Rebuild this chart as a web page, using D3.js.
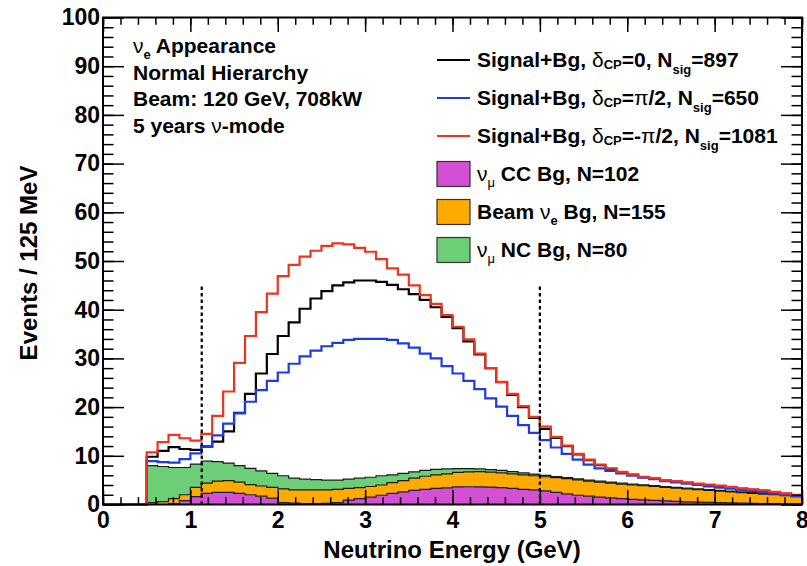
<!DOCTYPE html>
<html>
<head>
<meta charset="utf-8">
<script src="https://cdn.jsdelivr.net/npm/d3@7"></script>
<style>
  body { margin: 0; background: #fff; }
  text { font-family: "Liberation Sans", Arial, Helvetica, sans-serif; font-weight: bold; fill: #000; }
</style>
</head>
<body>
<div id="chart"></div>
<script>
var svgWidth = 807;
var svgHeight = 566;

var margin = {
  top: 17.5,
  right: 5,
  bottom: 61.5,
  left: 103
};

var width = svgWidth - margin.left - margin.right;
var height = svgHeight - margin.top - margin.bottom;

// histogram binning: 125 MeV bins, first filled bin starts at 0.5 GeV
var binStart = 0.5;
var binWidth = 0.125;
var xMax = 8;

// stacked backgrounds (events per bin), 60 bins from 0.5 to 8 GeV
var numuCC = [
  0, 0, 0.2, 0.8, 1.6, 2.3, 2.5, 2.5, 2.3, 2.0,
  1.7, 1.3, 0.4, 0.3, 0.2, 0.2, 0.25, 0.4, 0.9, 1.2,
  1.5, 1.9, 2.3, 2.6, 2.9, 3.1, 3.3, 3.4, 3.6, 3.65,
  3.6, 3.55, 3.45, 3.3, 3.1, 3.0, 2.8, 2.5, 2.2, 1.9,
  1.7, 1.5, 1.35, 1.2, 1.05, 0.95, 0.85, 0.75, 0.65, 0.55,
  0.5, 0.45, 0.4, 0.35, 0.3, 0.25, 0.2, 0.2, 0.15, 0.15
];
var beamNue = [
  0.4, 0.6, 1.0, 1.2, 1.9, 2.1, 2.3, 2.4, 2.3, 2.1,
  2.1, 2.2, 2.8, 2.7, 2.8, 2.8, 2.75, 2.7, 2.4, 2.25,
  2.2, 2.1, 2.2, 2.3, 2.5, 2.7, 2.8, 2.9, 3.0, 3.05,
  3.15, 3.1, 3.05, 3.0, 3.0, 2.9, 2.9, 3.0, 3.1, 3.15,
  3.1, 3.1, 3.05, 3.0, 2.95, 2.9, 2.85, 2.75, 2.7, 2.65,
  2.55, 2.45, 2.35, 2.25, 2.15, 2.05, 1.95, 1.8, 1.65, 1.45
];
var numuNC = [
  7.6, 7.2, 6.4, 5.6, 4.8, 4.5, 4.0, 3.6, 3.4, 3.3,
  3.1, 2.9, 2.7, 2.4, 2.2, 2.1, 2.0, 1.9, 1.9, 1.95,
  1.9, 1.9, 1.6, 1.5, 1.3, 1.2, 1.1, 1.0, 0.75, 0.65,
  0.55, 0.5, 0.5, 0.45, 0.4, 0.35, 0.3, 0.25, 0.2, 0.2,
  0.2, 0.2, 0.2, 0.2, 0.2, 0.18, 0.18, 0.17, 0.17, 0.16,
  0.16, 0.15, 0.15, 0.14, 0.14, 0.13, 0.13, 0.12, 0.12, 0.11
];

// signal + background totals for the three delta_CP values
var sigDcp0 = [
  9.8, 11.0, 11.8, 11.4, 11.2, 11.9, 12.9, 15.0, 18.8, 22.7,
  26.9, 30.9, 34.6, 37.4, 40.2, 42.3, 43.8, 45.0, 45.6, 46.0,
  46.0, 45.7, 45.1, 44.2, 43.2, 42.0, 40.5, 38.5, 36.2, 33.5,
  30.8, 28.0, 25.1, 22.5, 20.0, 17.8, 15.5, 13.7, 12.0, 10.3,
  9.1, 8.1, 7.3, 6.6, 6.1, 5.6, 5.3, 4.9, 4.7, 4.45,
  4.2, 4.0, 3.75, 3.5, 3.2, 3.0, 2.8, 2.5, 2.2, 1.9
];
var sigDcpPi2 = [
  8.9, 8.7, 8.6, 9.3, 10.5, 12.0, 14.2, 16.6, 18.7, 21.1,
  23.5, 25.4, 27.1, 28.9, 30.4, 31.6, 32.5, 33.2, 33.8, 34.0,
  34.0, 34.0, 33.8, 33.1, 32.2, 31.0, 30.0, 28.4, 26.9, 25.4,
  23.7, 21.8, 20.1, 18.2, 16.3, 14.7, 13.2, 11.7, 10.4, 9.2,
  8.2, 7.4, 6.9, 6.4, 5.9, 5.5, 5.2, 4.8, 4.55, 4.3,
  4.0, 3.7, 3.45, 3.25, 3.0, 2.8, 2.5, 2.25, 1.95, 1.7
];
var sigDcpMinusPi2 = [
  10.7, 12.8, 14.3, 13.6, 13.1, 14.5, 18.2, 23.2, 29.1, 34.6,
  39.5, 43.3, 46.9, 49.2, 50.9, 52.1, 53.1, 53.6, 53.4, 52.7,
  51.9, 50.4, 48.5, 47.2, 45.0, 43.0, 41.2, 38.9, 36.5, 33.9,
  31.0, 28.0, 25.2, 22.7, 20.2, 18.0, 16.0, 13.9, 12.1, 10.4,
  9.2, 8.2, 7.4, 6.7, 6.2, 5.7, 5.4, 5.0, 4.8, 4.55,
  4.3, 4.1, 3.87, 3.6, 3.3, 3.1, 2.9, 2.6, 2.3, 2.0
];

// energy window cuts (dotted lines)
var cutEnergies = [1.13, 5.0];
var cutHeight = 45.3;

var xTicks = [0, 1, 2, 3, 4, 5, 6, 7, 8];
var yTicks = [0, 10, 20, 30, 40, 50, 60, 70, 80, 90, 100];

var infoLines = [
  [{t: "\u03bd", greek: true}, {t: "e", sub: 6}, {t: " Appearance"}],
  [{t: "Normal Hierarchy"}],
  [{t: "Beam: 120 GeV, 708kW"}],
  [{t: "5 years "}, {t: "\u03bd", greek: true}, {t: "-mode"}]
];

var legendEntries = [
  {kind: "line", color: "#000000", parts: [{t: "Signal+Bg, "}, {t: "\u03b4", greek: true}, {t: "CP", sub: 2}, {t: "=0, N"}, {t: "sig", sub: 7}, {t: "=897"}]},
  {kind: "line", color: "#1e3ce6", parts: [{t: "Signal+Bg, "}, {t: "\u03b4", greek: true}, {t: "CP", sub: 2}, {t: "="}, {t: "\u03c0", greek: true}, {t: "/2, N"}, {t: "sig", sub: 7}, {t: "=650"}]},
  {kind: "line", color: "#f0321e", parts: [{t: "Signal+Bg, "}, {t: "\u03b4", greek: true}, {t: "CP", sub: 2}, {t: "=-"}, {t: "\u03c0", greek: true}, {t: "/2, N"}, {t: "sig", sub: 7}, {t: "=1081"}]},
  {kind: "box", color: "#d34fd3", parts: [{t: "\u03bd", greek: true}, {t: "\u03bc", sub: 6, greek: true}, {t: " CC Bg, N=102"}]},
  {kind: "box", color: "#ffaa00", parts: [{t: "Beam "}, {t: "\u03bd", greek: true}, {t: "e", sub: 6}, {t: " Bg, N=155"}]},
  {kind: "box", color: "#6ccf78", parts: [{t: "\u03bd", greek: true}, {t: "\u03bc", sub: 6, greek: true}, {t: " NC Bg, N=80"}]}
];

var svg = d3.select("#chart")
  .append("svg")
  .attr("width", svgWidth)
  .attr("height", svgHeight);

var chartGroup = svg.append("g")
  .attr("transform", `translate(${margin.left}, ${margin.top})`);

var xScale = d3.scaleLinear().domain([0, xMax]).range([0, width]);
var yScale = d3.scaleLinear().domain([0, 100]).range([height, 0]);

// rows for the stack, plus a closing row at the right edge for the step curve
var rows = numuCC.map(function(v, i) {
  return {e: binStart + i * binWidth, cc: v, nue: beamNue[i], nc: numuNC[i]};
});
var lastRow = rows[rows.length - 1];
rows.push({e: xMax, cc: lastRow.cc, nue: lastRow.nue, nc: lastRow.nc});

var stackKeys = ["cc", "nue", "nc"];
var stackColors = {cc: "#d34fd3", nue: "#ffaa00", nc: "#6ccf78"};
var series = d3.stack().keys(stackKeys)(rows);

var area = d3.area()
  .curve(d3.curveStepAfter)
  .x(d => xScale(d.data.e))
  .y0(d => yScale(d[0]))
  .y1(d => yScale(d[1]));

chartGroup.append("g").selectAll("path")
  .data(series)
  .enter()
  .append("path")
  .attr("d", area)
  .attr("fill", d => stackColors[d.key]);

var step = d3.line()
  .curve(d3.curveStepAfter)
  .x(d => xScale(d[0]))
  .y(d => yScale(d[1]));

// outline of each cumulative stack level
series.forEach(function(s) {
  var pts = [[0, 0], [binStart, 0]].concat(s.map(d => [d.data.e, d[1]]));
  chartGroup.append("path")
    .attr("d", step(pts))
    .attr("fill", "none")
    .attr("stroke", "#1a1a1a")
    .attr("stroke-width", 1.2);
});

// signal + background histograms
function histPoints(values) {
  var pts = [[0, 0]];
  values.forEach(function(v, i) { pts.push([binStart + i * binWidth, v]); });
  pts.push([xMax, values[values.length - 1]]);
  return pts;
}

[[sigDcp0, "#000000"], [sigDcpPi2, "#1e3ce6"], [sigDcpMinusPi2, "#f0321e"]].forEach(function(h) {
  chartGroup.append("path")
    .attr("d", step(histPoints(h[0])))
    .attr("fill", "none")
    .attr("stroke", h[1])
    .attr("stroke-width", 2.2);
});

// dotted cut lines
chartGroup.selectAll(".cut")
  .data(cutEnergies)
  .enter()
  .append("line")
  .attr("x1", d => xScale(d))
  .attr("x2", d => xScale(d))
  .attr("y1", yScale(0))
  .attr("y2", yScale(cutHeight))
  .attr("stroke", "#000")
  .attr("stroke-width", 2.2)
  .attr("stroke-dasharray", "3.5,3");

// ROOT style ticks on all four sides, pointing inwards
var yMinor = d3.range(0, 51).map(i => i * 2);
var xMinor = d3.range(0, 41).map(i => i * 0.2);

function tickAxis(axis, transform, cls) {
  var g = chartGroup.append("g").attr("class", cls).attr("transform", transform).call(axis);
  g.select(".domain").remove();
  g.selectAll("line").attr("stroke", "#000").attr("stroke-width", 1.5);
  return g;
}

var leftAxis = tickAxis(d3.axisLeft(yScale).tickValues(yTicks).tickSize(-21).tickPadding(3), "translate(0,0)", "y-axis");
tickAxis(d3.axisLeft(yScale).tickValues(yMinor).tickSize(-10.5).tickFormat(""), "translate(0,0)", "y-minor");
tickAxis(d3.axisRight(yScale).tickValues(yTicks).tickSize(-21).tickFormat(""), `translate(${width},0)`, "y-right");
tickAxis(d3.axisRight(yScale).tickValues(yMinor).tickSize(-10.5).tickFormat(""), `translate(${width},0)`, "y-right-minor");
var bottomAxis = tickAxis(d3.axisBottom(xScale).tickValues(xTicks).tickSize(-14.6).tickPadding(7), `translate(0,${height})`, "x-axis");
tickAxis(d3.axisBottom(xScale).tickValues(xMinor).tickSize(-7.3).tickFormat(""), `translate(0,${height})`, "x-minor");
tickAxis(d3.axisTop(xScale).tickValues(xTicks).tickSize(-14.6).tickFormat(""), "translate(0,0)", "x-top");
tickAxis(d3.axisTop(xScale).tickValues(xMinor).tickSize(-7.3).tickFormat(""), "translate(0,0)", "x-top-minor");

leftAxis.selectAll("text").style("font-size", "23px").attr("font-family", null);
bottomAxis.selectAll("text").style("font-size", "23px").attr("font-family", null);

// frame
chartGroup.append("rect")
  .attr("x", 0)
  .attr("y", 0)
  .attr("width", width)
  .attr("height", height)
  .attr("fill", "none")
  .attr("stroke", "#000")
  .attr("stroke-width", 2);

// axis titles
svg.append("text")
  .attr("x", margin.left + width / 2 - 0.5)
  .attr("y", 558)
  .attr("text-anchor", "middle")
  .style("font-size", "24px")
  .text("Neutrino Energy (GeV)");

svg.append("text")
  .attr("transform", "translate(37, 263) rotate(-90)")
  .attr("text-anchor", "middle")
  .style("font-size", "24px")
  .text("Events / 125 MeV");

// text with greek letters and subscripts
function richText(parent, x, y, parts, size) {
  var t = parent.append("text").attr("x", x).attr("y", y).style("font-size", size + "px");
  var shift = 0;
  parts.forEach(function(p) {
    var off = p.sub || 0;
    var ts = t.append("tspan").attr("dy", off - shift).text(p.t);
    shift = off;
    if (p.sub) ts.style("font-size", Math.round(size * 0.62) + "px");
    if (p.greek) ts.style("font-weight", "normal");
  });
  return t;
}

infoLines.forEach(function(parts, i) {
  richText(svg, 133, 53 + i * 26.7, parts, 21);
});

var legendGroup = svg.append("g");
legendEntries.forEach(function(entry, i) {
  var cy = 60 + i * 38;
  if (entry.kind === "line") {
    legendGroup.append("line")
      .attr("x1", 437).attr("x2", 470)
      .attr("y1", cy).attr("y2", cy)
      .attr("stroke", entry.color)
      .attr("stroke-width", 2.2);
  } else {
    legendGroup.append("rect")
      .attr("x", 437).attr("y", cy - 12.5)
      .attr("width", 33).attr("height", 25)
      .attr("fill", entry.color)
      .attr("stroke", "#333")
      .attr("stroke-width", 1.2);
  }
  richText(legendGroup, 477, cy + 6.5, entry.parts, 21);
});
</script>
</body>
</html>
